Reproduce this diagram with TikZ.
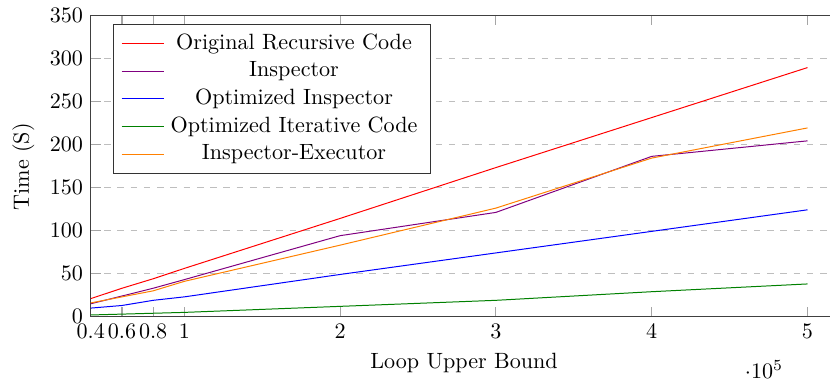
\documentclass[tikz,border=0pt]{standalone}
\usepackage{tikz}
\definecolor{gridgray}{RGB}{190,190,190}
\definecolor{tickgray}{RGB}{165,165,165}
\definecolor{recred}{RGB}{255,0,0}
\definecolor{inspviolet}{RGB}{128,0,128}
\definecolor{optblue}{RGB}{0,0,255}
\definecolor{itergreen}{RGB}{0,128,0}
\definecolor{execorange}{RGB}{255,128,0}

\begin{document}
\begin{tikzpicture}[
  x=0.4525pt, y=0.4525pt,
  axisline/.style={draw=black!75, line width=0.4pt},
  tickmark/.style={draw=tickgray, line width=0.5pt},
  gridline/.style={draw=gridgray, dashed, line width=0.4pt},
  series/.style={line width=0.45pt},
  legendframe/.style={draw=black!80, fill=white, line width=0.4pt},
]
\useasboundingbox (0,0) rectangle (830,382);

% plot area, in data units
\begin{scope}[shift={(28.5,65.3)}, xscale=155.8, yscale=0.862]
  \foreach \v in {50,100,...,300} {
    \draw[gridline] (0.4,\v) -- (5.144,\v);
    \draw[tickmark] (0.4,\v) -- ++(0.064,0);
  }
  \foreach \u in {0.4,0.6,0.8,1,2,3,4,5} {
    \draw[tickmark] (\u,0) -- ++(0,11.6);
    \draw[tickmark] (\u,350) -- ++(0,-11.6);
  }
  \draw[axisline] (5.144,350) -- (0.4,350) -- (0.4,0) -- (5.144,0);

  \foreach \v in {0,50,...,350}
    \node[left] (ytick\v) at (0.4,\v) {$\v$};
  \foreach \u [count=\i] in {0.4,0.6,0.8,1,2,3,4,5}
    \node[below] (xtick\i) at (\u,0) {$\u$};

  \draw[recred, series] plot coordinates {(0.4,21) (0.6,33) (0.8,44) (1,56)
    (2,114) (3,173) (4,231) (5,289)};
  \draw[inspviolet, series] plot coordinates {(0.4,15) (0.6,24) (0.8,33) (1,43)
    (2,94) (3,121) (4,186) (5,204)};
  \draw[optblue, series] plot coordinates {(0.4,10) (0.6,13) (0.8,19) (1,23)
    (2,49) (3,74) (4,99) (5,124)};
  \draw[itergreen, series] plot coordinates {(0.4,2) (0.6,3) (0.8,4) (1,5)
    (2,12) (3,19) (4,29) (5,38)};
  \draw[execorange, series] plot coordinates {(0.4,16) (0.6,23) (0.8,30) (1,41)
    (2,83) (3,126) (4,184) (5,219)};
\end{scope}

% axis labels
\node[rotate=90] (ylabel) at (23.3,215.3) {Time (S)};
\node (xlabel) at (464,19) {Loop Upper Bound};
\node (xmult) at (764,12) {$\cdot 10^{5}$};

% legend
\draw[legendframe] (113.3,208.7) rectangle (430,358);
\foreach \col/\txt/\h [count=\i] in {recred/Original Recursive Code/338.5,
    inspviolet/Inspector/310.5, optblue/Optimized Inspector/283.5,
    itergreen/Optimized Iterative Code/255.5,
    execorange/Inspector-Executor/227.5} {
  \coordinate (legline\i) at (121.7,\h);
  \draw[draw=\col, series] (legline\i) -- ++(42.6,0);
  \node (legtext\i) at (294,\h) {\txt};
}
\end{tikzpicture}
\end{document}
